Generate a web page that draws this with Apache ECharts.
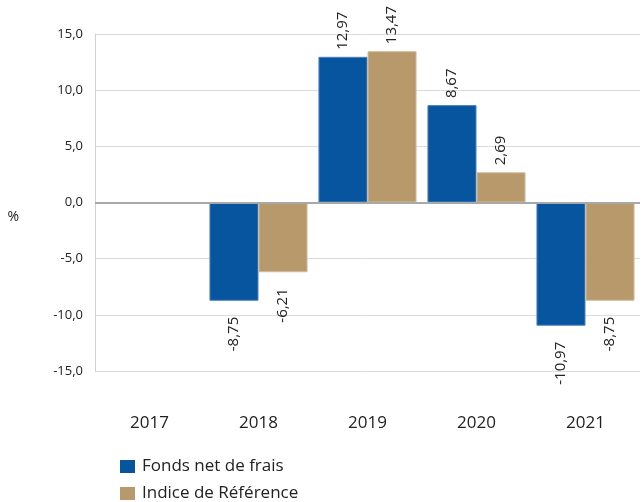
<!DOCTYPE html>
<html>
<head>
<meta charset="utf-8">
<script src="https://cdn.jsdelivr.net/npm/echarts@6/dist/echarts.min.js"></script>
<style>
html, body { margin: 0; padding: 0; background: #fff; }
#chart { width: 641px; height: 502px; }
</style>
</head>
<body>
<div id="chart"></div>
<script>
const years = ['2017', '2018', '2019', '2020', '2021']
const fonds = [null, -8.75, 12.97, 8.67, -10.97]
const indice = [null, -6.21, 13.47, 2.69, -8.75]
const seriesNames = ['Fonds net de frais', 'Indice de Référence']

const fmt2 = v => v.toFixed(2).replace('.', ',')

// per-point label: above the bar end when positive, below when negative
function withLabels (values) {
  return values.map(v => {
    if (v === null) return null
    const pos = v >= 0
    return {
      value: v,
      label: {
        show: true,
        position: pos ? 'top' : 'bottom',
        rotate: 90,
        align: pos ? 'left' : 'right',
        verticalAlign: 'middle',
        distance: pos ? 7 : 16,
        formatter: p => fmt2(p.value),
        color: '#222',
        fontSize: 15,
        fontFamily: 'Open Sans'
      }
    }
  })
}

// one legend per row, stacked
const legendBase = {
  orient: 'vertical',
  left: 120,
  padding: 0,
  itemWidth: 15,
  itemHeight: 13,
  icon: 'rect',
  itemStyle: { borderWidth: 0 },
  textStyle: { fontSize: 17, color: '#222', fontFamily: 'Open Sans', padding: [0, 0, 0, 2] }
}

const chart = echarts.init(document.getElementById('chart'))
const option = {
  animation: false,
  textStyle: { fontFamily: 'Open Sans' },
  grid: { left: 95, right: 1, top: 34, bottom: 131 },
  legend: [
    Object.assign({}, legendBase, { data: [seriesNames[0]], top: 458 }),
    Object.assign({}, legendBase, { data: [seriesNames[1]], top: 485 })
  ],
  xAxis: {
    type: 'category',
    data: years,
    axisLine: { show: false },
    axisTick: { show: false },
    axisLabel: { fontSize: 17, color: '#222', margin: 44 }
  },
  yAxis: {
    type: 'value',
    name: '%',
    nameLocation: 'middle',
    nameRotate: 0,
    nameGap: 76,
    nameTextStyle: { fontSize: 14, color: '#222', verticalAlign: 'top', padding: [8, 0, 0, 0] },
    min: -15,
    max: 15,
    interval: 5,
    axisLine: { show: true, lineStyle: { color: '#d0d0d0' } },
    axisTick: { show: false },
    axisLabel: {
      fontSize: 13,
      color: '#222',
      margin: 12,
      formatter: v => v.toFixed(1).replace('.', ',')
    },
    splitLine: { lineStyle: { color: '#dcdcdc' } }
  },
  series: [
    {
      name: seriesNames[0],
      type: 'bar',
      data: withLabels(fonds),
      barGap: '0%',
      barCategoryGap: '10%',
      itemStyle: { color: '#07549f', borderColor: '#4f82c0', borderWidth: 1 },
      markLine: {
        silent: true,
        symbol: 'none',
        label: { show: false },
        lineStyle: { color: '#a8a8a8', width: 2, type: 'solid' },
        data: [{ yAxis: 0 }]
      }
    },
    {
      name: seriesNames[1],
      type: 'bar',
      data: withLabels(indice),
      itemStyle: { color: '#b8996b', borderColor: '#d2bd9c', borderWidth: 1 }
    }
  ]
}
chart.setOption(option)
</script>
</body>
</html>
